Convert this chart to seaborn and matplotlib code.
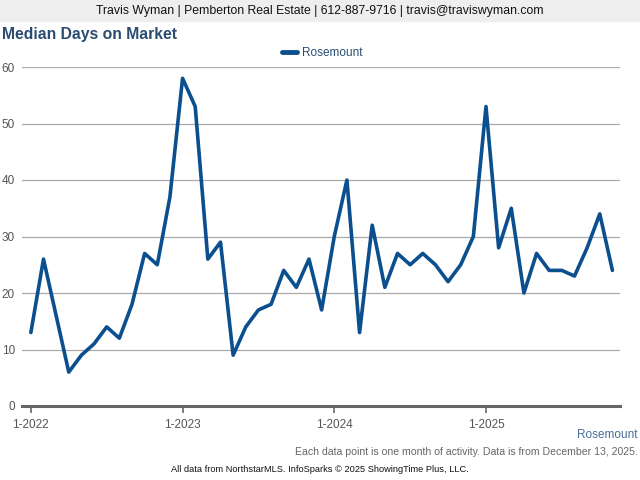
import numpy as np
import pandas as pd
import matplotlib
matplotlib.use("Agg")
import matplotlib.pyplot as plt
import seaborn as sns

# monthly median days on market, 1-2022 .. 11-2025
months = pd.period_range("2022-01", "2025-11", freq="M")
days = [13, 26, 16, 6, 9, 11, 14, 12, 18, 27, 25, 37,
        58, 53, 26, 29, 9, 14, 17, 18, 24, 21, 26, 17,
        30, 40, 13, 32, 21, 27, 25, 27, 25, 22, 25, 30,
        53, 28, 35, 20, 27, 24, 24, 23, 28, 34, 24]
year_ticks = [0, 12, 24, 36]
year_labels = ["1-2022", "1-2023", "1-2024", "1-2025"]
y_ticks = [0, 10, 20, 30, 40, 50, 60]

df = pd.DataFrame({"idx": np.arange(len(days)), "days": days,
                   "area": "Rosemount"})

sns.set_theme(style="white")
plt.rcParams["font.family"] = ["Liberation Sans", "DejaVu Sans"]

fig = plt.figure(figsize=(6.4, 4.8), dpi=100)
ax = fig.add_axes([22 / 640, 1 - 406 / 480, 598 / 640, 339 / 480])

line_col = "#0b4f8e"
sns.lineplot(data=df, x="idx", y="days", hue="area", palette=[line_col],
             linewidth=2.6, ax=ax, legend=False)

ax.set_xlim(-0.7, 46.6)
ax.set_ylim(0, 60)
ax.set_xticks(year_ticks)
ax.set_xticklabels(year_labels, fontsize=8.5, color="#555555")
ax.set_yticks(y_ticks)
ax.set_yticklabels([str(v) for v in y_ticks], fontsize=8.5, color="#555555")
ax.set_xlabel("")
ax.set_ylabel("")
for v in y_ticks[1:]:
    ax.axhline(v, color="#aaaaaa", linewidth=0.9, zorder=0)
for s in ["top", "right", "left"]:
    ax.spines[s].set_visible(False)
ax.spines["bottom"].set_color("#666666")
ax.spines["bottom"].set_linewidth(2.2)
ax.tick_params(axis="x", length=5, width=1.2, color="#666666", pad=4, direction="out", bottom=True)
ax.tick_params(axis="y", length=0, pad=5)
ax.set_clip_on(False)

# header banner
fig.patches.append(plt.Rectangle((0, 1 - 21 / 480), 1, 21 / 480,
                                 transform=fig.transFigure,
                                 color="#eeeeee", zorder=0))
fig.text(0.5, 1 - 11 / 480,
         "Travis Wyman | Pemberton Real Estate | 612-887-9716 | travis@traviswyman.com",
         ha="center", va="center", fontsize=8.8, color="#111111")
fig.text(2 / 640, 1 - 35 / 480, "Median Days on Market", ha="left",
         va="center", fontsize=11.3, fontweight="bold", color="#2b4c71")

# legend
handle = plt.Line2D([], [], color=line_col, linewidth=3.5)
fig.legend([handle], ["Rosemount"], loc="center",
           bbox_to_anchor=(322 / 640, 1 - 53 / 480), frameon=False,
           fontsize=8.5, handlelength=1.3, handletextpad=0.4,
           labelcolor="#2b4c71")

fig.text(638 / 640, 1 - 435 / 480, "Rosemount", ha="right", va="center",
         fontsize=8.5, color="#4a6d9a")
fig.text(638 / 640, 1 - 452 / 480,
         "Each data point is one month of activity. Data is from December 13, 2025.",
         ha="right", va="center", fontsize=7.6, color="#666666")
fig.text(320 / 640, 1 - 469 / 480,
         "All data from NorthstarMLS. InfoSparks \u00a9 2025 ShowingTime Plus, LLC.",
         ha="center", va="center", fontsize=6.7, color="#111111")

fig.savefig("out.png", dpi=100)
